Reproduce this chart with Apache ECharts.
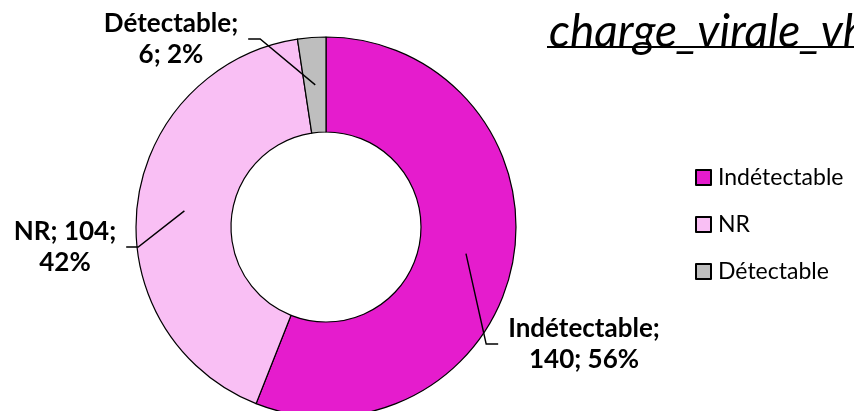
<!DOCTYPE html>
<html>
<head>
<meta charset="utf-8">
<script src="https://cdn.jsdelivr.net/npm/echarts@6/dist/echarts.min.js"></script>
<style>
  html, body { margin: 0; padding: 0; background: #fff; }
  #chart { width: 854px; height: 411px; }
</style>
</head>
<body>
<div id="chart"></div>
<script>
// données
var categories = ["Indétectable", "NR", "Détectable"];
var values = [140, 104, 6];
var colors = ["#E51CCD", "#F9BFF4", "#BEBEBE"];
// où couper la ligne dans l'étiquette (après le nom ou après la valeur)
var breakAfterValue = [false, true, false];
// positions des étiquettes (centre du texte)
var labelPos = [[584, 344], [65, 247], [171, 39]];

var cx = 326, cy = 227, rIn = 95, rOut = 190;
var total = values.reduce(function (a, b) { return a + b; }, 0);
var fontFam = "Lato, 'DejaVu Sans', sans-serif";
var labelFont = "bold 26px Lato";

function labelText(i) {
  var pct = Math.round(values[i] / total * 100);
  if (breakAfterValue[i]) {
    return categories[i] + "; " + values[i] + ";\n" + pct + "%";
  }
  return categories[i] + ";\n" + values[i] + "; " + pct + "%";
}

// largeur du texte de l'étiquette (ligne la plus longue)
var ctx = document.createElement("canvas").getContext("2d");
ctx.font = labelFont;
function labelWidth(i) {
  return Math.max.apply(null, labelText(i).split("\n").map(function (s) {
    return ctx.measureText(s).width;
  }));
}

// point de départ de la ligne de rappel : milieu de l'anneau, angle médian de la part
function lineStart(i) {
  var cum = 0;
  for (var k = 0; k < i; k++) cum += values[k];
  var t = (cum + values[i] / 2) / total * 2 * Math.PI;
  var r = (rIn + rOut) / 2;
  return [cx + r * Math.sin(t), cy - r * Math.cos(t)];
}

var leaders = categories.map(function (c, i) {
  var pos = labelPos[i];
  var side = pos[0] > cx ? -1 : 1;
  var endX = pos[0] + side * (labelWidth(i) / 2 + 10);
  var bendX = endX + side * 12;
  return {
    type: "polyline",
    z: 10,
    shape: { points: [lineStart(i), [bendX, pos[1]], [endX, pos[1]]] },
    style: { stroke: "#000", lineWidth: 1.4, fill: null }
  };
});

var myChart = echarts.init(document.getElementById("chart"));

myChart.setOption({
  animation: false,
  textStyle: { fontFamily: fontFam },
  title: {
    text: "charge_virale_vhc",
    left: 544,
    top: 4,
    textStyle: {
      fontFamily: fontFam,
      fontStyle: "italic",
      fontWeight: "normal",
      fontSize: 46,
      color: "#000"
    }
  },
  graphic: [
    {
      type: "line",
      shape: { x1: 547, y1: 47, x2: 854, y2: 47 },
      style: { stroke: "#000", lineWidth: 2 }
    }
  ].concat(leaders),
  legend: {
    orient: "vertical",
    left: 695,
    top: 166,
    padding: 0,
    itemWidth: 15,
    itemHeight: 15,
    itemGap: 24,
    icon: "rect",
    data: categories,
    textStyle: { fontSize: 23, lineHeight: 23, color: "#000", padding: [0, 0, 0, 2] }
  },
  series: [
    {
      type: "pie",
      center: [cx, cy],
      radius: [rIn, rOut],
      startAngle: 90,
      clockwise: true,
      itemStyle: { borderColor: "#000", borderWidth: 1.2 },
      label: {
        show: true,
        position: "outside",
        color: "#000",
        fontWeight: "bold",
        fontSize: 26,
        lineHeight: 31,
        align: "center",
        overflow: "none",
        formatter: function (p) {
          return labelText(p.dataIndex);
        }
      },
      labelLine: { show: false },
      labelLayout: function (params) {
        var pos = labelPos[params.dataIndex];
        return {
          x: pos[0],
          y: pos[1],
          align: "center",
          verticalAlign: "middle"
        };
      },
      data: categories.map(function (c, i) {
        return { name: c, value: values[i], itemStyle: { color: colors[i] } };
      })
    }
  ]
});
</script>
</body>
</html>
